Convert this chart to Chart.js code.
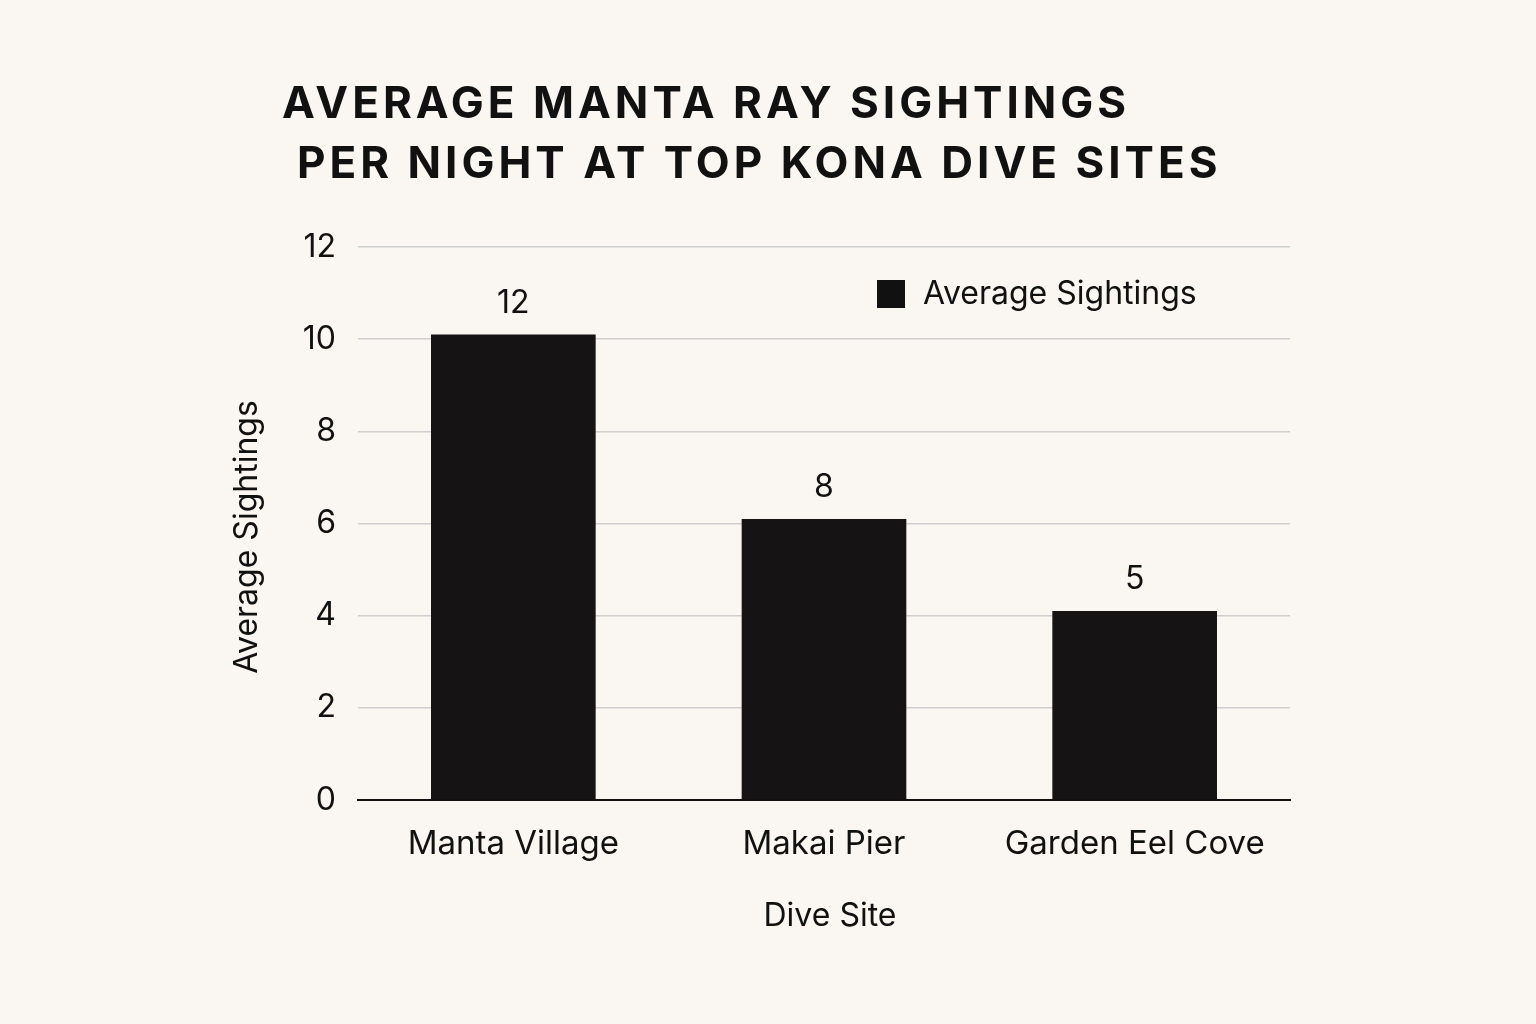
<!DOCTYPE html>
<html><head><meta charset="utf-8">
<script src="https://cdn.jsdelivr.net/npm/chart.js@4"></script>
<style>html,body{margin:0;background:#faf7f2;}#w{width:1536px;height:1024px;}</style>
</head><body><div id="w"><canvas id="c"></canvas></div>
<script>
const categories = ["Manta Village", "Makai Pier", "Garden Eel Cove"];
const barValues = [10.1, 6.1, 4.1];
const valueLabels = ["12", "8", "5"];
const yTicks = [0, 2, 4, 6, 8, 10, 12];
const titleLines = ["AVERAGE MANTA RAY SIGHTINGS", "PER NIGHT AT TOP KONA DIVE SITES"];
const seriesName = "Average Sightings";

const F = "'Inter','Liberation Sans',sans-serif";
const deco = {
  id: 'deco',
  afterDraw(ch) {
    const c = ch.ctx;
    c.save();
    c.fillStyle = '#111';
    c.font = "bold 44px " + F;
    c.letterSpacing = '4px';
    c.textAlign = 'left'; c.textBaseline = 'alphabetic';
    c.fillText(titleLines[0], 282, 118);
    c.fillText(titleLines[1], 297, 178);
    c.letterSpacing = '0px';
    c.font = "32px " + F; c.textAlign = 'center';
    const meta = ch.getDatasetMeta(0);
    meta.data.forEach((b, i) => c.fillText(valueLabels[i], b.x, b.y - 22));
    c.fillRect(877, 280, 28, 28);
    c.textAlign = 'left'; c.textBaseline = 'middle';
    c.fillText(seriesName, 923, 294);
    c.textAlign = 'center';
    c.fillText("Dive Site", 830, 916);
    c.translate(247, 537); c.rotate(-Math.PI / 2);
    c.fillText("Average Sightings", 0, 0);
    c.restore();
  }
};
new Chart(document.getElementById('c'), {
  type: 'bar',
  data: { labels: categories, datasets: [{ label: seriesName, data: barValues,
    backgroundColor: '#151313', barPercentage: 0.53, categoryPercentage: 1 }] },
  options: {
    responsive: true, maintainAspectRatio: false, animation: false,
    layout: { padding: { top: 247, right: 246, left: 0, bottom: 0 } },
    plugins: { legend: { display: false }, tooltip: { enabled: false } },
    scales: {
      x: { afterFit(s) { s.height = 224; },
        grid: { display: false }, border: { color: '#111', width: 2 },
        ticks: { color: '#111', font: { size: 33, family: F }, padding: 16 } },
      y: { min: 0, max: 12, afterFit(s) { s.width = 358; },
        afterBuildTicks(s) { s.ticks = yTicks.map(v => ({ value: v })); },
        grid: { color: '#cfcfcf', lineWidth: 1.5, drawTicks: false }, border: { display: false },
        ticks: { color: '#111', font: { size: 32, family: F }, padding: 22 } }
    }
  },
  plugins: [deco]
});
</script></body></html>
